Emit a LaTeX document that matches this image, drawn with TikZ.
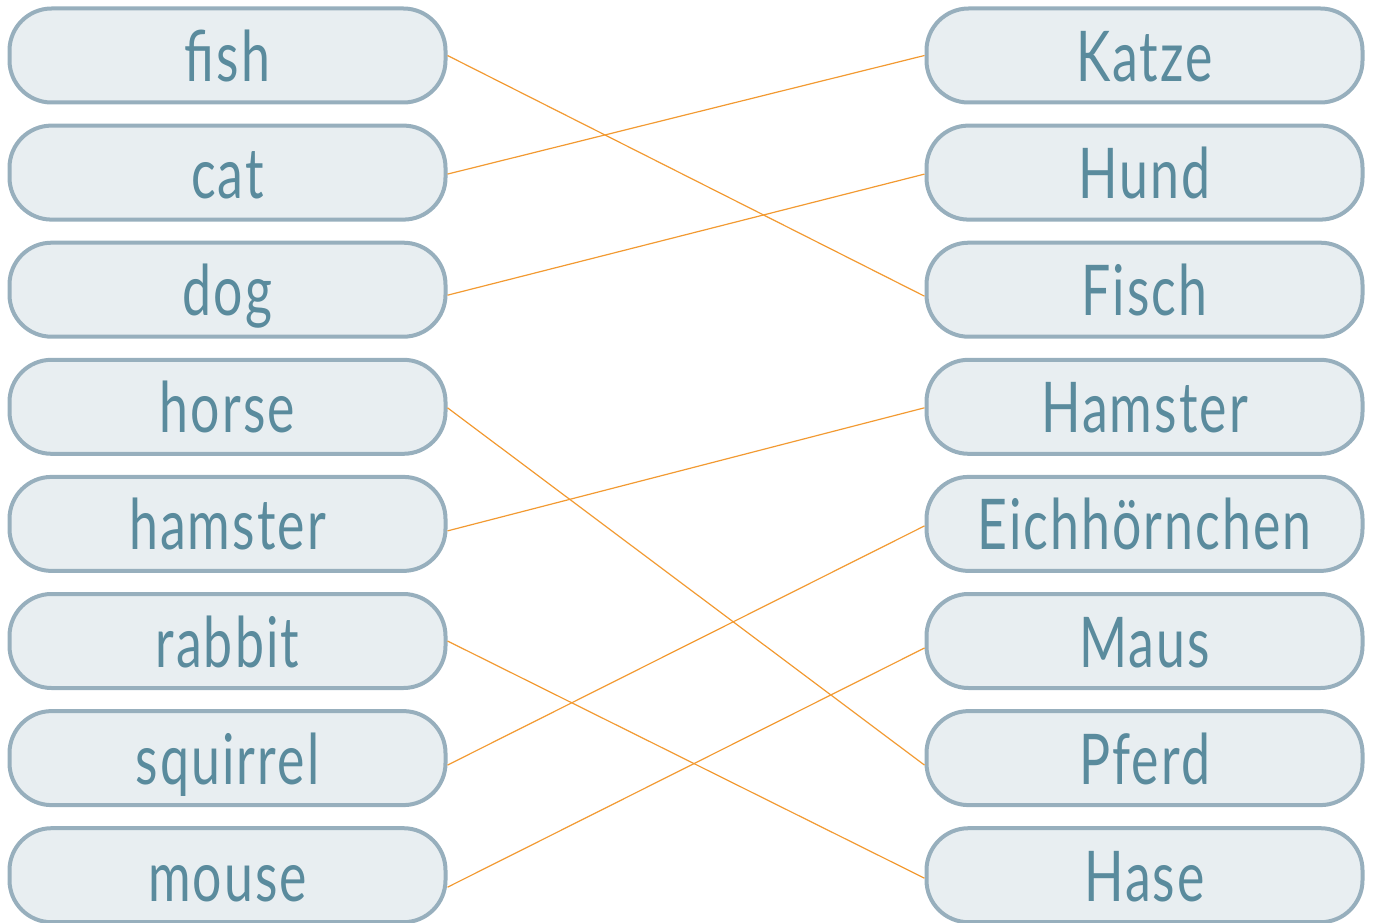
\documentclass[tikz,border=0pt]{standalone}
\usepackage{fontspec}
\setmainfont{Lato}[LetterSpace=4]
\definecolor{boxline}{HTML}{97AFBD}
\definecolor{boxfill}{HTML}{E8EEF1}
\definecolor{wordcol}{HTML}{5A8B9D}
\definecolor{linkcol}{HTML}{F29A32}
\begin{document}
\begin{tikzpicture}[x=1pt,y=-1pt,
  wordbox/.style={draw=boxline, fill=boxfill, line width=4pt, rounded corners=42pt,
    minimum width=436pt, minimum height=94pt, inner sep=0pt},
  word/.style={text=wordcol, font=\fontsize{70}{84}\selectfont, anchor=base, inner sep=0pt},
  link/.style={draw=linkcol, line width=1.2pt}]
\useasboundingbox (0,0) rectangle (1373,923);
\foreach \i/\w in {1/fish,2/cat,3/dog,4/horse,5/hamster,6/rabbit,7/squirrel,8/mouse}{
  \pgfmathsetmacro{\cy}{55.5+117.1*(\i-1)}
  \node[wordbox] (L\i) at (227.5,\cy) {};
  \node[word] (Lt\i) at (227.5,\cy+26) {\scalebox{0.74}[1]{\w}};
}
\foreach \i/\w in {1/Katze,2/Hund,3/Fisch,4/Hamster,5/Eichhörnchen,6/Maus,7/Pferd,8/Hase}{
  \pgfmathsetmacro{\cy}{55.5+117.1*(\i-1)}
  \node[wordbox] (R\i) at (1144.5,\cy) {};
  \node[word] (Rt\i) at (1144.5,\cy+26) {\scalebox{0.74}[1]{\w}};
}
\draw[link] ([yshift=0pt]L1.east) -- ([yshift=-6.5pt]R3.west);
\draw[link] ([yshift=-1.5pt]L2.east) -- ([yshift=0pt]R1.west);
\draw[link] ([yshift=-5.5pt]L3.east) -- ([yshift=-1.5pt]R2.west);
\draw[link] ([yshift=-1pt]L4.east) -- ([yshift=-7pt]R7.west);
\draw[link] ([yshift=-7pt]L5.east) -- ([yshift=-1pt]R4.west);
\draw[link] ([yshift=0pt]L6.east) -- ([yshift=-3pt]R8.west);
\draw[link] ([yshift=-7pt]L7.east) -- ([yshift=-2pt]R5.west);
\draw[link] ([yshift=-12pt]L8.east) -- ([yshift=-7pt]R6.west);
\end{tikzpicture}
\end{document}
